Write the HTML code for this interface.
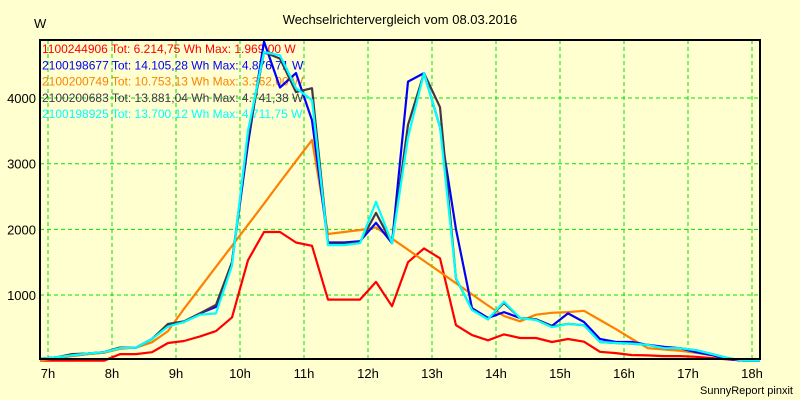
<!DOCTYPE html>
<html><head><meta charset="utf-8"><style>
body{margin:0;background:#ffffd0;}
svg{display:block;font-family:"Liberation Sans",sans-serif;}
</style></head><body>
<svg id="chart" width="800" height="400" viewBox="0 0 800 400">
<rect x="0" y="0" width="800" height="400" fill="#ffffd0"/>
<text x="400" y="24" font-size="13" text-anchor="middle" fill="#000">Wechselrichtervergleich vom 08.03.2016</text>
<text x="34" y="28" font-size="13" fill="#000">W</text>
<text x="793" y="394" font-size="11" text-anchor="end" fill="#000">SunnyReport pinxit</text>
<g id="grid"></g>
<g id="ticks"></g>
<g id="legend"></g>
<g id="series"></g>
<rect x="40" y="40" width="720" height="319" fill="none" stroke="#000" stroke-width="2"/>
</svg>
<script>
const hourLabels=["7h","8h","9h","10h","11h","12h","13h","14h","15h","16h","17h","18h"];
const yTicks=[1000,2000,3000,4000];
const seriesNames=["1100244906 Tot: 6.214,75 Wh Max: 1.969,00 W","2100198677 Tot: 14.105,28 Wh Max: 4.876,71 W","2100200749 Tot: 10.753,13 Wh Max: 3.362,00 W","2100200683 Tot: 13.881,04 Wh Max: 4.741,38 W","2100198925 Tot: 13.700,12 Wh Max: 4.711,75 W"];
const seriesColors=["#ff0000","#0000ff","#ff8000","#403848","#00ffff"];
const red=[0,0,0,0,0,100,100,130,270,300,370,450,660,1530,1960,1960,1800,1750,930,930,930,1200,830,1500,1710,1560,540,390,310,400,345,345,285,330,290,135,115,85,80,70,70,60,40,20,0,0];
const blue=[30,50,80,110,130,200,200,330,540,590,720,820,1500,3300,4860,4160,4380,3660,1800,1800,1820,2100,1790,4250,4380,3560,2000,800,650,740,650,630,530,720,590,330,285,285,240,210,190,130,85,25,0,0];
const orange=[0,40,70,100,120,180,200,280,450,790,1110,1430,1750,2070,2390,2720,3040,3360,1930,1960,1990,2030,1860,1690,1520,1350,1180,1010,840,680,600,700,730,740,760,620,480,330,190,170,150,120,80,30,0,0];
const dark=[30,50,100,110,130,200,200,330,560,600,720,850,1500,3400,4700,4600,4090,4150,1780,1780,1800,2250,1790,3590,4380,3860,1250,780,630,880,650,630,520,560,540,285,270,260,240,190,190,160,100,40,0,0];
const cyan=[30,50,80,110,130,190,200,330,520,590,700,720,1450,3500,4700,4650,4150,3970,1760,1760,1790,2420,1790,3400,4380,3560,1260,770,630,900,650,620,510,560,540,285,270,260,240,190,190,160,100,40,0,0];
const seriesData=[red,blue,orange,dark,cyan];
const NS="http://www.w3.org/2000/svg";
function xIdx(i){return 40+i*16;}
function xHour(k){return 48+k*64;}
function yVal(v){return 360.7-v*0.06567;}
const grid=document.getElementById('grid');
hourLabels.forEach((lab,k)=>{
  const l=document.createElementNS(NS,'line');
  l.setAttribute('x1',xHour(k));l.setAttribute('x2',xHour(k));l.setAttribute('y1',40);l.setAttribute('y2',359);
  l.setAttribute('stroke','#00e000');l.setAttribute('stroke-dasharray','4,3');l.setAttribute('stroke-width','1');
  
  
  grid.appendChild(l);
  const t=document.createElementNS(NS,'text');
  t.setAttribute('x',xHour(k));t.setAttribute('y',378);t.setAttribute('font-size','13');t.setAttribute('text-anchor','middle');
  t.textContent=lab;
  
  
  document.getElementById('ticks').appendChild(t);
});
yTicks.forEach(v=>{
  const l=document.createElementNS(NS,'line');
  l.setAttribute('x1',40);l.setAttribute('x2',760);l.setAttribute('y1',yVal(v));l.setAttribute('y2',yVal(v));
  l.setAttribute('stroke','#00e000');l.setAttribute('stroke-dasharray','4,3');l.setAttribute('stroke-width','1');
  
  
  grid.appendChild(l);
  const t=document.createElementNS(NS,'text');
  t.setAttribute('x',36);t.setAttribute('y',yVal(v)+5);t.setAttribute('font-size','13');t.setAttribute('text-anchor','end');
  t.textContent=v;
  
  
  document.getElementById('ticks').appendChild(t);
});
const sg=document.getElementById('series');
const order=[0,2,1,3,4];
order.forEach(s=>{
  const p=document.createElementNS(NS,'polyline');
  p.setAttribute('points',seriesData[s].map((v,i)=>xIdx(i)+','+yVal(v).toFixed(1)).join(' '));
  p.setAttribute('fill','none');p.setAttribute('stroke',seriesColors[s]);p.setAttribute('stroke-width','2.2');
  p.setAttribute('stroke-linejoin','round');
  
  
  sg.appendChild(p);
});
const lg=document.getElementById('legend');
seriesNames.forEach((n,s)=>{
  const t=document.createElementNS(NS,'text');
  t.setAttribute('x',42);t.setAttribute('y',53+s*16.3);t.setAttribute('font-size','12');t.setAttribute('fill',seriesColors[s]);
  t.textContent=n;
  
  
  lg.appendChild(t);
});
</script>
</body></html>
